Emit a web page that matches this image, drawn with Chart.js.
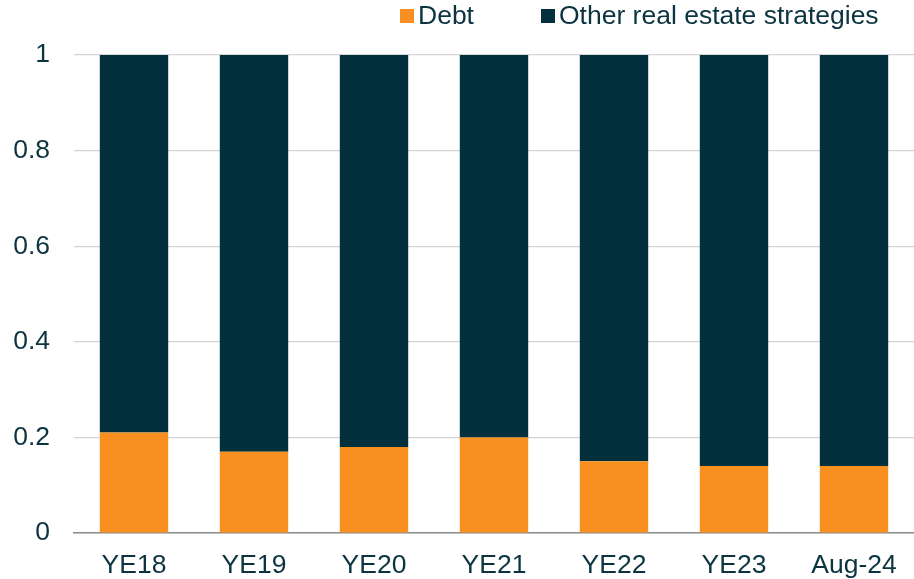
<!DOCTYPE html>
<html>
<head>
<meta charset="utf-8">
<script src="https://cdn.jsdelivr.net/npm/chart.js@4/dist/chart.umd.min.js"></script>
<style>
  body { margin: 0; background: #fff; }
  #wrap { position: relative; width: 914px; height: 579px; }
  #legend {
    position: absolute; top: 0; left: 400px; height: 31px;
    font-family: "Liberation Sans", Arial, sans-serif; font-size: 26.5px; color: #0b3440;
    display: flex; align-items: center; white-space: nowrap;
  }
  #legend span.box { display: inline-block; width: 14px; height: 14px; margin-right: 4px; }
  #legend span.item { display: inline-flex; align-items: center; }
</style>
</head>
<body>
<div id="wrap">
  <div id="legend"></div>
  <canvas id="myChart" width="914" height="579"></canvas>
</div>
<script>
// chart data
const categories = ['YE18', 'YE19', 'YE20', 'YE21', 'YE22', 'YE23', 'Aug-24'];
const debt = [0.21, 0.17, 0.18, 0.20, 0.15, 0.14, 0.14];
const otherStrategies = [0.79, 0.83, 0.82, 0.80, 0.85, 0.86, 0.86];
const yTicks = [0, 0.2, 0.4, 0.6, 0.8, 1];

const orange = '#f7901e';
const darkTeal = '#03303d';
const textColor = '#0b3440';
const fontFamily = '"Liberation Sans", Arial, sans-serif';

// html legend
const legendItems = [
  { label: 'Debt', color: orange },
  { label: 'Other real estate strategies', color: darkTeal }
];
const legendEl = document.getElementById('legend');
legendItems.forEach((item, i) => {
  const el = document.createElement('span');
  el.className = 'item';
  if (i > 0) el.style.marginLeft = '67px';
  el.innerHTML = '<span class="box" style="background:' + item.color + '"></span>' + item.label;
  legendEl.appendChild(el);
});

const ctx = document.getElementById('myChart');
new Chart(ctx, {
  type: 'bar',
  data: {
    labels: categories,
    datasets: [
      { label: 'Debt', data: debt, backgroundColor: orange },
      { label: 'Other real estate strategies', data: otherStrategies, backgroundColor: darkTeal }
    ]
  },
  options: {
    responsive: false,
    animation: false,
    layout: { padding: { top: 55, right: 0, left: 0, bottom: 0 } },
    plugins: {
      legend: { display: false },
      tooltip: { enabled: false }
    },
    datasets: {
      bar: { categoryPercentage: 1, barPercentage: 0.57 }
    },
    scales: {
      x: {
        stacked: true,
        grid: { display: false, drawTicks: false },
        border: { color: '#8c8c8c', width: 1.5 },
        ticks: {
          color: textColor,
          padding: 17,
          font: { family: fontFamily, size: 26.5 }
        },
        afterFit: (scale) => { scale.height = 46; }
      },
      y: {
        stacked: true,
        min: 0,
        max: 1,
        afterBuildTicks: (scale) => { scale.ticks = yTicks.map(v => ({ value: v })); },
        grid: { color: '#d4d4d4', lineWidth: 1.2, drawTicks: false },
        border: { display: false },
        ticks: {
          color: textColor,
          padding: 24,
          font: { family: fontFamily, size: 26.5 },
          callback: (v) => String(Math.round(v * 10) / 10)
        },
        afterFit: (scale) => { scale.width = 74; }
      }
    }
  }
});
</script>
</body>
</html>
